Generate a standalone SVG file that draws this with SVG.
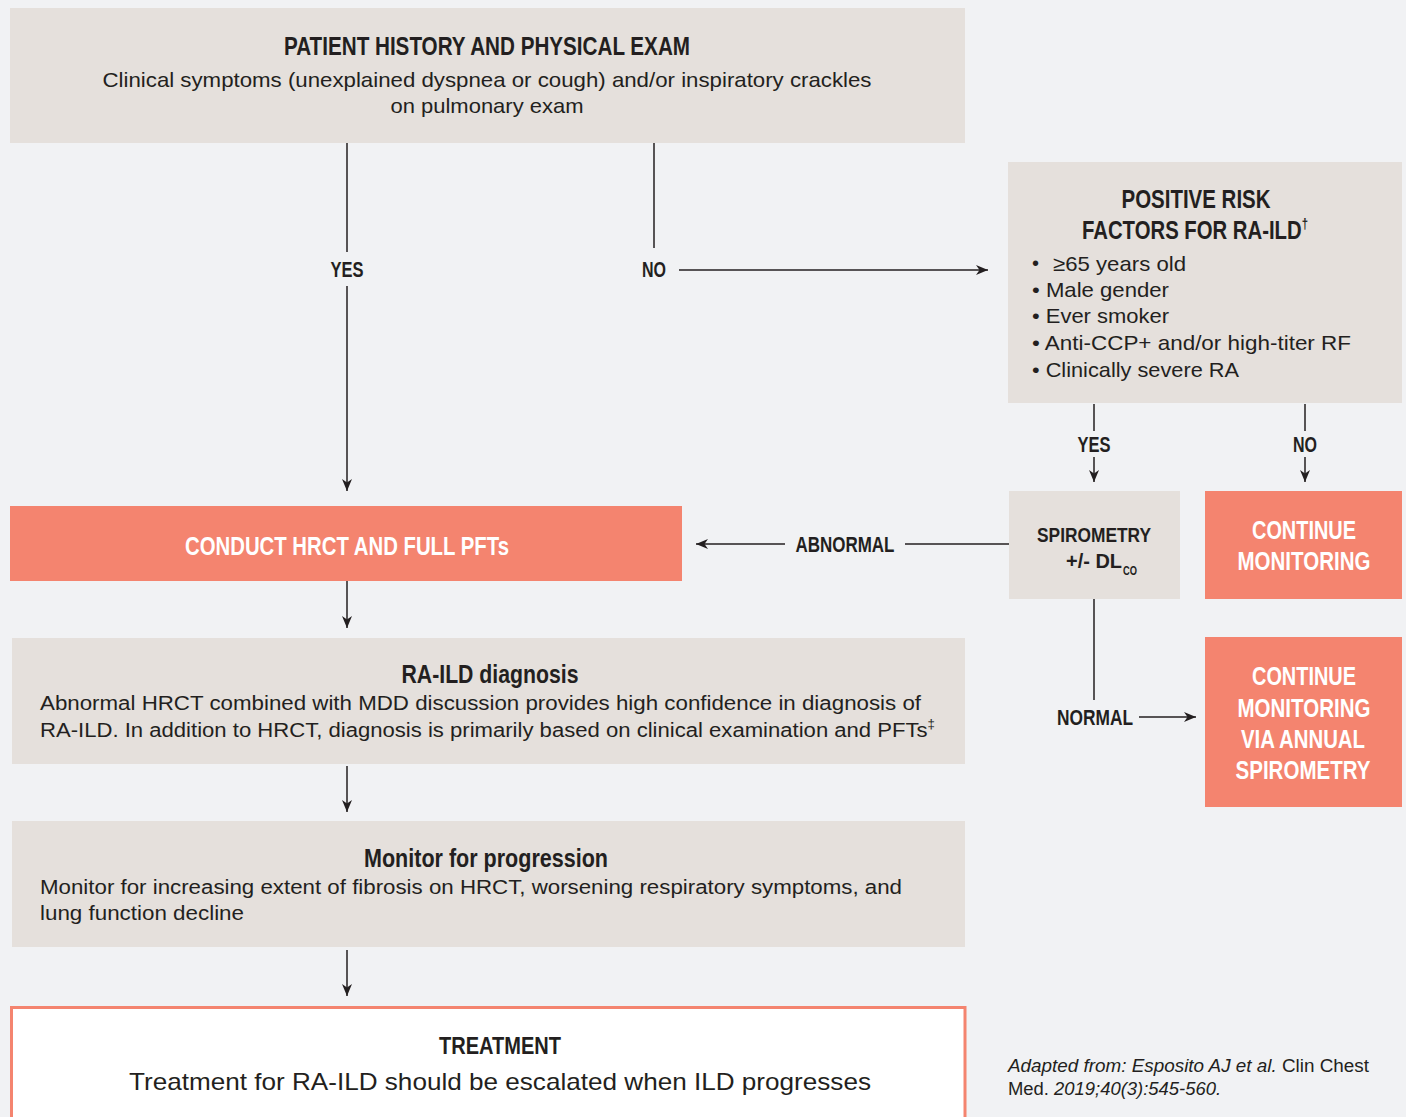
<svg xmlns="http://www.w3.org/2000/svg" width="1406" height="1117" viewBox="0 0 1406 1117">
<defs>
<style>
.bg{fill:#f1f2f4}
.box{fill:#e5e0dc}
.hot{fill:#f4846f}
.h{font-family:"Liberation Sans Narrow","Liberation Sans",Arial,sans-serif;font-weight:bold;fill:#231f20}
.hw{font-family:"Liberation Sans Narrow","Liberation Sans",Arial,sans-serif;font-weight:bold;fill:#ffffff}
.b{font-family:"Liberation Sans",Arial,sans-serif;fill:#231f20}
.c{text-anchor:middle}
.conn line{stroke:#231f20;stroke-width:1.5;fill:none}
.arr{marker-end:url(#ah)}
</style>
<marker id="ah" viewBox="0 0 12 12" refX="12" refY="6" markerWidth="12" markerHeight="12" markerUnits="userSpaceOnUse" orient="auto">
<path d="M0,1 L12,6 L0,11 L3.5,6 z" fill="#231f20"/>
</marker>
</defs>
<rect class="bg" x="0" y="0" width="1406" height="1117"/>

<g id="connectors" class="conn">
<line x1="347" y1="143" x2="347" y2="252"/>
<line class="arr" x1="347" y1="286" x2="347" y2="491"/>
<line x1="654" y1="143" x2="654" y2="248"/>
<line class="arr" x1="679" y1="270" x2="988" y2="270"/>
<line x1="1094" y1="404" x2="1094" y2="431"/>
<line class="arr" x1="1094" y1="457" x2="1094" y2="482"/>
<line x1="1305" y1="404" x2="1305" y2="431"/>
<line class="arr" x1="1305" y1="457" x2="1305" y2="482"/>
<line x1="1009" y1="544" x2="905" y2="544"/>
<line class="arr" x1="785" y1="544" x2="696" y2="544"/>
<line x1="1094" y1="599" x2="1094" y2="700"/>
<line class="arr" x1="1139" y1="717" x2="1196" y2="717"/>
<line class="arr" x1="347" y1="581" x2="347" y2="628"/>
<line class="arr" x1="347" y1="766" x2="347" y2="812"/>
<line class="arr" x1="347" y1="950" x2="347" y2="996"/>
</g>

<g id="labels">
<text class="h c" x="347" y="277" font-size="22" textLength="33" lengthAdjust="spacingAndGlyphs">YES</text>
<text class="h c" x="654" y="277" font-size="22" textLength="24" lengthAdjust="spacingAndGlyphs">NO</text>
<text class="h c" x="1094" y="452" font-size="22" textLength="33" lengthAdjust="spacingAndGlyphs">YES</text>
<text class="h c" x="1305" y="452" font-size="22" textLength="24" lengthAdjust="spacingAndGlyphs">NO</text>
<text class="h c" x="845" y="552" font-size="22" textLength="99" lengthAdjust="spacingAndGlyphs">ABNORMAL</text>
<text class="h c" x="1095" y="725" font-size="22" textLength="76" lengthAdjust="spacingAndGlyphs">NORMAL</text>
</g>

<g id="node-history">
<rect class="box" x="10" y="8" width="955" height="135"/>
<text class="h c" x="487" y="55" font-size="26" textLength="406" lengthAdjust="spacingAndGlyphs">PATIENT HISTORY AND PHYSICAL EXAM</text>
<text class="b c" x="487" y="87" font-size="21" textLength="769" lengthAdjust="spacingAndGlyphs">Clinical symptoms (unexplained dyspnea or cough) and/or inspiratory crackles</text>
<text class="b c" x="487" y="113" font-size="21" textLength="193" lengthAdjust="spacingAndGlyphs">on pulmonary exam</text>
</g>

<g id="node-risk">
<rect class="box" x="1008" y="162" width="394" height="241"/>
<text class="h c" x="1196" y="208" font-size="25" textLength="149" lengthAdjust="spacingAndGlyphs">POSITIVE RISK</text>
<text class="h" x="1082" y="239" font-size="25" textLength="226" lengthAdjust="spacingAndGlyphs">FACTORS FOR RA-ILD<tspan font-size="14" dy="-10">†</tspan></text>
<text class="b" x="1032" y="270" font-size="20">•</text>
<text class="b" x="1053" y="271" font-size="21" textLength="133" lengthAdjust="spacingAndGlyphs">≥65 years old</text>
<text class="b" x="1032" y="297" font-size="21" textLength="137" lengthAdjust="spacingAndGlyphs">• Male gender</text>
<text class="b" x="1032" y="323" font-size="21" textLength="137" lengthAdjust="spacingAndGlyphs">• Ever smoker</text>
<text class="b" x="1032" y="350" font-size="21" textLength="319" lengthAdjust="spacingAndGlyphs">• Anti-CCP+ and/or high-titer RF</text>
<text class="b" x="1032" y="377" font-size="21" textLength="207" lengthAdjust="spacingAndGlyphs">• Clinically severe RA</text>
</g>

<g id="node-spirometry">
<rect class="box" x="1009" y="491" width="171" height="108"/>
<text class="h c" x="1094" y="542" font-size="21" textLength="114" lengthAdjust="spacingAndGlyphs">SPIROMETRY</text>
<text class="h" x="1066" y="568" font-size="21" textLength="56" lengthAdjust="spacingAndGlyphs">+/- DL</text>
<text class="h" x="1123" y="575" font-size="12" textLength="14" lengthAdjust="spacingAndGlyphs">CO</text>
</g>

<g id="node-continue">
<rect class="hot" x="1205" y="491" width="197" height="108"/>
<text class="hw c" x="1304" y="539" font-size="25" textLength="104" lengthAdjust="spacingAndGlyphs">CONTINUE</text>
<text class="hw c" x="1304" y="570" font-size="25" textLength="133" lengthAdjust="spacingAndGlyphs">MONITORING</text>
</g>

<g id="node-annual">
<rect class="hot" x="1205" y="637" width="197" height="170"/>
<text class="hw c" x="1304" y="685" font-size="25" textLength="104" lengthAdjust="spacingAndGlyphs">CONTINUE</text>
<text class="hw c" x="1304" y="717" font-size="25" textLength="133" lengthAdjust="spacingAndGlyphs">MONITORING</text>
<text class="hw c" x="1303" y="748" font-size="25" textLength="124" lengthAdjust="spacingAndGlyphs">VIA ANNUAL</text>
<text class="hw c" x="1303" y="779" font-size="25" textLength="135" lengthAdjust="spacingAndGlyphs">SPIROMETRY</text>
</g>

<g id="node-hrct">
<rect class="hot" x="10" y="506" width="672" height="75"/>
<text class="hw c" x="347" y="555" font-size="25" textLength="324" lengthAdjust="spacingAndGlyphs">CONDUCT HRCT AND FULL PFTs</text>
</g>

<g id="node-diagnosis">
<rect class="box" x="12" y="638" width="953" height="126"/>
<text class="h c" x="490" y="683" font-size="25" textLength="177" lengthAdjust="spacingAndGlyphs">RA-ILD diagnosis</text>
<text class="b" x="40" y="710" font-size="20" textLength="881" lengthAdjust="spacingAndGlyphs">Abnormal HRCT combined with MDD discussion provides high confidence in diagnosis of</text>
<text class="b" x="40" y="737" font-size="20" textLength="895" lengthAdjust="spacingAndGlyphs">RA-ILD. In addition to HRCT, diagnosis is primarily based on clinical examination and PFTs<tspan font-size="12" dy="-9">‡</tspan></text>
</g>

<g id="node-monitor">
<rect class="box" x="12" y="821" width="953" height="126"/>
<text class="h c" x="486" y="867" font-size="25" textLength="244" lengthAdjust="spacingAndGlyphs">Monitor for progression</text>
<text class="b" x="40" y="894" font-size="20" textLength="862" lengthAdjust="spacingAndGlyphs">Monitor for increasing extent of fibrosis on HRCT, worsening respiratory symptoms, and</text>
<text class="b" x="40" y="920" font-size="20" textLength="204" lengthAdjust="spacingAndGlyphs">lung function decline</text>
</g>

<g id="node-treatment">
<rect x="11.5" y="1007.5" width="953.5" height="120" fill="#ffffff" stroke="#f4846f" stroke-width="3"/>
<text class="h c" x="500" y="1054" font-size="24" textLength="122" lengthAdjust="spacingAndGlyphs">TREATMENT</text>
<text class="b c" x="500" y="1090" font-size="24" textLength="742" lengthAdjust="spacingAndGlyphs">Treatment for RA-ILD should be escalated when ILD progresses</text>
</g>

<g id="citation">
<text class="b" x="1008" y="1072" font-size="18" textLength="361" lengthAdjust="spacingAndGlyphs"><tspan font-style="italic">Adapted from: Esposito AJ et al.</tspan> Clin Chest</text>
<text class="b" x="1008" y="1095" font-size="18" textLength="213" lengthAdjust="spacingAndGlyphs">Med. <tspan font-style="italic">2019;40(3):545-560.</tspan></text>
</g>
</svg>
